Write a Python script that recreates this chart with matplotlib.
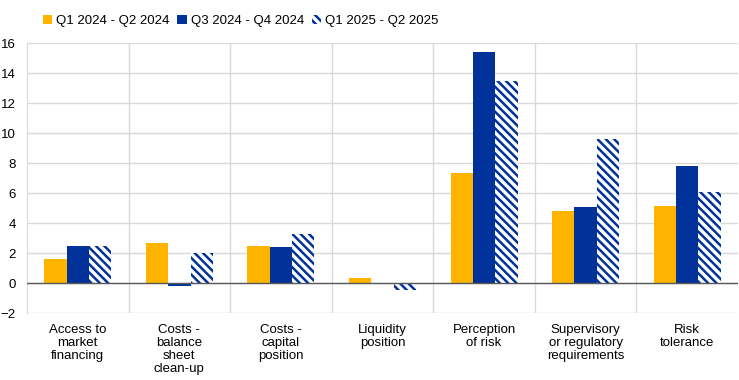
import numpy as np
import matplotlib
matplotlib.use("Agg")
import matplotlib.pyplot as plt

plt.rcParams['font.family'] = ['Liberation Sans', 'DejaVu Sans']
plt.rcParams['hatch.linewidth'] = 1.8

categories = ["Access to\nmarket\nfinancing", "Costs -\nbalance\nsheet\nclean-up",
              "Costs -\ncapital\nposition", "Liquidity\nposition", "Perception\nof risk",
              "Supervisory\nor regulatory\nrequirements", "Risk\ntolerance"]
series_names = ["Q1 2024 - Q2 2024", "Q3 2024 - Q4 2024", "Q1 2025 - Q2 2025"]
h1_2024 = [1.6, 2.65, 2.45, 0.35, 7.33, 4.8, 5.13]
h2_2024 = [2.47, -0.2, 2.4, 0.0, 15.4, 5.07, 7.8]
h1_2025 = [2.45, 2.0, 3.3, -0.45, 13.45, 9.6, 6.05]

yellow = "#FFB400"
blue = "#003299"

fig = plt.figure(figsize=(7.39, 3.8), dpi=100)
ax = fig.add_axes([27 / 739, 1 - 313 / 380, 711 / 739, 270 / 380])

x = np.arange(len(categories))
w = 0.22
ax.bar(x - w, h1_2024, w, color=yellow, label=series_names[0], zorder=3)
ax.bar(x, h2_2024, w, color=blue, label=series_names[1], zorder=3)
ax.bar(x + w, h1_2025, w, color="white", edgecolor=blue, hatch="\\\\\\\\",
       linewidth=0, label=series_names[2], zorder=3)

ax.set_xlim(-0.5, len(categories) - 0.5)
ax.set_ylim(-2, 16)
ax.set_yticks(np.arange(-2, 17, 2))
ax.set_xticks(x)
ax.set_xticklabels(categories, fontsize=9.5, linespacing=1.1)
ax.tick_params(axis='y', labelsize=9.5, length=0, pad=8)
ax.tick_params(axis='x', length=0, pad=8)

for yv in np.arange(-2, 17, 2):
    ax.axhline(yv, color="#d9d9d9", lw=1, zorder=1)
for xv in np.arange(0.5, len(categories) - 0.5, 1):
    ax.axvline(xv, color="#d9d9d9", lw=1, zorder=1)
ax.axhline(0, color="#595959", lw=1, zorder=4)

for s in ["top", "right", "bottom"]:
    ax.spines[s].set_visible(False)
ax.spines["left"].set_color("#d9d9d9")

ax.legend(loc="upper left", bbox_to_anchor=(0.015, 1.125), ncol=3, frameon=False,
          fontsize=9.5, handlelength=0.7, handleheight=0.7, handletextpad=0.3,
          columnspacing=0.6, borderaxespad=0)

fig.savefig("out.png", dpi=100)
